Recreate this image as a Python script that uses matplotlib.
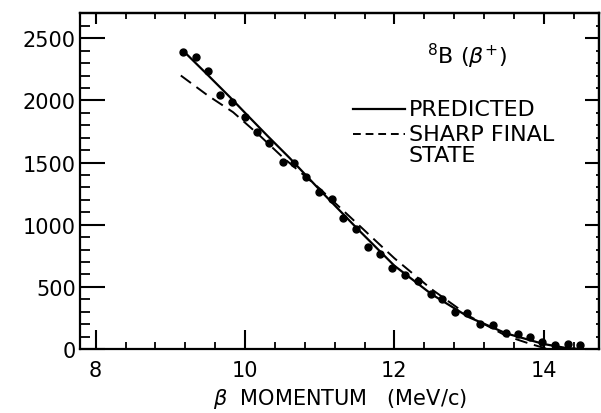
import numpy as np
import matplotlib.pyplot as plt
from matplotlib.ticker import MultipleLocator

# measured spectrum (beta momentum in MeV/c, counts)
p_data = [9.17, 9.34, 9.51, 9.66, 9.83, 10.0, 10.16, 10.32, 10.51, 10.65, 10.82,
          10.99, 11.16, 11.31, 11.48, 11.65, 11.81, 11.97, 12.14, 12.32, 12.49,
          12.64, 12.81, 12.97, 13.15, 13.32, 13.49, 13.66, 13.81, 13.98, 14.15,
          14.32, 14.48]
n_data = [2390, 2350, 2240, 2045, 1985, 1865, 1745, 1655, 1505, 1500, 1385,
          1260, 1210, 1050, 965, 820, 765, 650, 592, 545, 442,
          405, 300, 290, 201, 190, 128, 117, 94, 55, 32,
          44, 30]

# predicted curve
p_pred = [9.17, 9.5, 9.8, 10.0, 10.3, 10.6, 11.0, 11.5, 12.0, 12.5, 13.0, 13.5, 14.0, 14.3, 14.5]
n_pred = [2400, 2205, 2025, 1900, 1715, 1535, 1280, 970, 670, 440, 255, 125, 40, 8, 0]

# sharp final state curve
p_sharp = [9.14, 9.5, 9.84, 10.2, 10.5, 11.0, 11.5, 12.0, 12.5, 13.0, 13.5, 13.8, 14.05]
n_sharp = [2200, 2040, 1905, 1715, 1545, 1290, 1010, 730, 480, 265, 105, 45, 0]

fig = plt.figure(figsize=(6.01, 4.14), dpi=100)
ax = fig.add_axes([80/601, 64/414, 519/601, 336/414])

ax.plot(p_pred, n_pred, color='black', lw=1.6)
ax.plot(p_sharp, n_sharp, color='black', lw=1.4, ls=(0, (6.5, 3.5)))
ax.plot(p_data, n_data, 'o', color='black', ms=5)

ax.set_xlim(7.79, 14.74)
ax.set_ylim(0, 2703)

for s in ax.spines.values():
    s.set_linewidth(1.6)

ax.xaxis.set_major_locator(MultipleLocator(2))
ax.xaxis.set_minor_locator(MultipleLocator(0.4))
ax.yaxis.set_major_locator(MultipleLocator(500))
ax.yaxis.set_minor_locator(MultipleLocator(100))

ax.tick_params(axis='x', which='major', direction='in', length=14, width=1.5,
               labelsize=15, pad=8, top=False)
ax.tick_params(axis='x', which='minor', direction='in', length=5, width=1.3, top=False)
ax.tick_params(axis='y', which='major', direction='in', length=18, width=1.5,
               labelsize=15, pad=3, right=False)
ax.tick_params(axis='y', which='minor', direction='in', length=7, width=1.3, right=False)

# top and right ticks are shorter
top = ax.secondary_xaxis('top')
top.xaxis.set_major_locator(MultipleLocator(2))
top.xaxis.set_minor_locator(MultipleLocator(0.4))
top.tick_params(which='major', direction='in', length=8, width=1.5, labeltop=False)
top.tick_params(which='minor', direction='in', length=4, width=1.3)
top.spines['top'].set_linewidth(1.6)

right = ax.secondary_yaxis('right')
right.yaxis.set_major_locator(MultipleLocator(500))
right.yaxis.set_minor_locator(MultipleLocator(100))
right.tick_params(which='major', direction='in', length=10, width=1.5, labelright=False)
right.tick_params(which='minor', direction='in', length=2, width=1.3)
right.spines['right'].set_linewidth(1.6)

ax.set_xticks([8, 10, 12, 14])
ax.set_xticklabels(['8', '10', '12', '14'])

ax.set_xlabel(r'$\beta$  MOMENTUM   (MeV/c)', fontsize=15, labelpad=4)

fig_h = 414
ax.text(467, fig_h - 56, r'$^{8}$B ($\beta^{+}$)', transform=None, fontsize=16,
        ha='center', va='center')

# legend drawn by hand
ax.plot([353, 405], [fig_h - 110, fig_h - 110], transform=None, color='black', lw=1.6)
ax.plot([353, 405], [fig_h - 135, fig_h - 135], transform=None, color='black', lw=1.4,
        ls=(0, (4, 2.5)))
ax.text(409, fig_h - 110, 'PREDICTED', transform=None, fontsize=16, va='center')
ax.text(409, fig_h - 135, 'SHARP FINAL', transform=None, fontsize=16, va='center')
ax.text(409, fig_h - 156, 'STATE', transform=None, fontsize=16, va='center')

fig.savefig('out.png', dpi=100)
